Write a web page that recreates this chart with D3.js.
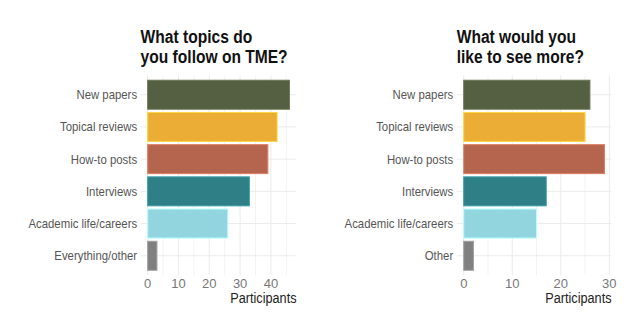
<!DOCTYPE html>
<html>
<head>
<meta charset="utf-8">
<script src="https://cdn.jsdelivr.net/npm/d3@7"></script>
<style>
  html, body { margin: 0; padding: 0; background: #fff; }
  svg { display: block; }
  text { font-family: "Liberation Sans", Arial, sans-serif; }
  .title { font-weight: bold; font-size: 17.8px; fill: #111; }
  .cat { font-size: 13px; fill: #555; }
  .tick-x { font-size: 13px; fill: #777; }
  .axis-title { font-size: 14.5px; fill: #222; }
</style>
</head>
<body>
<div id="chart"></div>
<script>
// Survey answers
const followCategories = ["New papers", "Topical reviews", "How-to posts", "Interviews", "Academic life/careers", "Everything/other"];
const followValues = [46, 42, 39, 33, 26, 3];

const moreCategories = ["New papers", "Topical reviews", "How-to posts", "Interviews", "Academic life/careers", "Other"];
const moreValues = [26, 25, 29, 17, 15, 2];

const barColors = ["#555f42", "#ebad35", "#b5654e", "#2e7f86", "#92d5df", "#808080"];

const followTitle = ["What topics do", "you follow on TME?"];
const moreTitle = ["What would you", "like to see more?"];
const followTicks = [0, 10, 20, 30, 40];
const moreTicks = [0, 10, 20, 30];
const xTitle = "Participants";

const W = 640, H = 336;
const NARROW = 0.875; // horizontal squeeze for a condensed look

const svg = d3.select("#chart").append("svg").attr("width", W).attr("height", H);

// place a text at (x, y), squeezed horizontally around its anchor
function squeezed(sel, x, y, k = NARROW) {
  return sel.attr("transform", `translate(${x},${y}) scale(${k},1)`);
}

function panel(opts) {
  const { left, right, top, bottom, cats, vals, ticks, title } = opts;
  const maxV = d3.max(vals);
  const pad = maxV * 0.05;
  const x = d3.scaleLinear().domain([-pad, maxV + pad]).range([left, right]);
  const y = d3.scaleBand().domain(cats).range([top, bottom]).paddingInner(0.1).paddingOuter(0.15);
  const g = svg.append("g");

  // minor vertical grid
  const minor = d3.range(5, maxV + pad, 10);
  g.selectAll(".minor").data(minor).join("line")
    .attr("x1", d => x(d)).attr("x2", d => x(d))
    .attr("y1", top).attr("y2", bottom)
    .attr("stroke", "#f3f3f3").attr("stroke-width", 1);
  // major vertical grid
  g.selectAll(".major").data(ticks).join("line")
    .attr("x1", d => x(d)).attr("x2", d => x(d))
    .attr("y1", top).attr("y2", bottom)
    .attr("stroke", "#ebebeb").attr("stroke-width", 1);
  // horizontal grid at category centres
  g.selectAll(".hgrid").data(cats).join("line")
    .attr("x1", left).attr("x2", right)
    .attr("y1", d => y(d) + y.bandwidth() / 2).attr("y2", d => y(d) + y.bandwidth() / 2)
    .attr("stroke", "#ebebeb").attr("stroke-width", 1);

  // bars
  g.selectAll(".bar").data(vals).join("rect")
    .attr("x", x(0))
    .attr("y", (d, i) => y(cats[i]))
    .attr("width", d => x(d) - x(0))
    .attr("height", y.bandwidth())
    .attr("fill", (d, i) => barColors[i])
    .attr("stroke", (d, i) => d3.color(barColors[i]).brighter(0.6))
    .attr("stroke-width", 1);

  // category labels
  g.selectAll(".cat").data(cats).join("text")
    .attr("class", "cat")
    .each(function (d) { squeezed(d3.select(this), left - 3.5, y(d) + y.bandwidth() / 2); })
    .attr("dy", "0.35em")
    .attr("text-anchor", "end")
    .text(d => d);

  // x tick labels
  g.selectAll(".tick-x").data(ticks).join("text")
    .attr("class", "tick-x")
    .each(function (d) { squeezed(d3.select(this), x(d), bottom + 12.6, 1); })
    .attr("text-anchor", "middle")
    .text(d => d);

  // x title
  squeezed(g.append("text").attr("class", "axis-title"), right, bottom + 28.3)
    .attr("text-anchor", "end").text(xTitle);

  // panel title
  const t = squeezed(g.append("text").attr("class", "title"), left, top - 32.8);
  title.forEach((line, i) => t.append("tspan").attr("x", 0).attr("dy", i === 0 ? 0 : 20).text(line));
}

panel({ left: 140.6, right: 296.5, top: 75.4, bottom: 275.1, cats: followCategories, vals: followValues, ticks: followTicks, title: followTitle });
panel({ left: 456.7, right: 611.5, top: 75.4, bottom: 275.1, cats: moreCategories, vals: moreValues, ticks: moreTicks, title: moreTitle });
</script>
</body>
</html>
